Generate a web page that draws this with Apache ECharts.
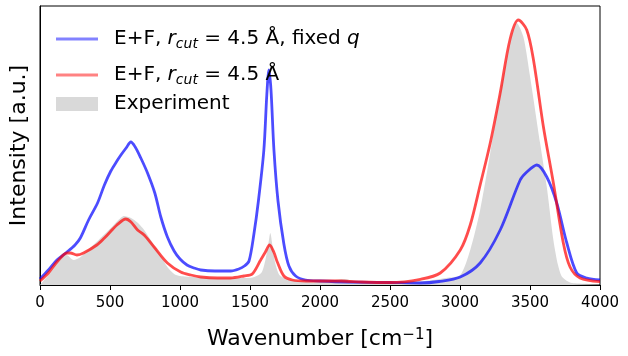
<!DOCTYPE html>
<html><head><meta charset="utf-8">
<script src="https://cdn.jsdelivr.net/npm/echarts@6/dist/echarts.min.js"></script>
<style>html,body{margin:0;padding:0;background:#fff}#c{width:628px;height:356px}</style>
</head><body><div id="c"></div>
<script>
// Wavenumber (cm^-1) and intensity (arbitrary units)
const blueX = [0,60,121,193,250,288,347,411,460,506,545,578,615,649,680,720,768,820,863,910,958,1000,1050,1100,1148,1250,1362,1420,1460,1493,1528,1560,1599,1620,1635,1650,1671,1700,1742,1778,1826,1897,2004,2200,2500,2717,2850,3002,3144,3287,3430,3477,3549,3620,3691,3763,3834,3905,4000];
const blueY = [6,15,25,33,40,47,65,82,100,114,123,130,137,143,138,127,112,92,68,48,34,26,20,17,15,14,14,16,19,24,51,84,135,190,215,195,135,84,41,19,9,5,4,3,2.5,2,3.5,8,22,55,105,113,120,108,82,42,12,7,5];

const redX = [0,60,121,193,217,264,311,406,460,501,549,613,650,697,744,815,910,1005,1077,1148,1267,1360,1457,1516,1576,1610,1640,1670,1695,1742,1802,1900,2000,2150,2300,2500,2717,2859,3002,3073,3144,3216,3287,3358,3417,3477,3525,3596,3667,3738,3786,3857,4000];
const redY = [4,12,23,32,32,30,32,40,47,53,60,66,63,55,50,38,22,13,10,8,7,7,9,11,25,33,40,33,23,9,5,4,4,4,3,2.5,5.7,12,35,60,100,142,192,246,265,255,225,158,102,42,18,7,3.3];

const expX = [0,60,121,190,240,290,350,411,506,560,600,650,700,744,791,850,910,958,1000,1100,1300,1500,1580,1610,1630,1645,1660,1680,1710,1760,1850,2000,2100,2170,2250,2400,2600,2750,2900,3002,3073,3144,3216,3287,3358,3406,3453,3501,3572,3620,3667,3700,3730,3800,4000];
const expY = [0,10,22,30,25,28,36,44,57,65,69,67,62,55,45,32,18,11,9,8,7,7,12,25,40,52,40,22,10,6,4,3,5,6,4,3,3,4,7,10,35,75,132,192,242,262,248,208,142,98,45,20,8,2,1];

const xTicks = [0,500,1000,1500,2000,2500,3000,3500,4000];
const nameBlue = 'E+F, rcut = 4.5 Å, fixed q';
const nameRed = 'E+F, rcut = 4.5 Å';
const nameExp = 'Experiment';
const xTitle = 'Wavenumber [cm{sup|−1}]';
const yTitle = 'Intensity [a.u.]';

function pairs(xs, ys){ return xs.map((x,i)=>[x, ys[i]]); }
const FONT = 'DejaVu Sans';
const rich = {
  n:{fontFamily:FONT,fontSize:20,lineHeight:24,color:'#000',verticalAlign:'middle'},
  i:{fontFamily:FONT,fontSize:20,lineHeight:24,color:'#000',fontStyle:'italic',verticalAlign:'middle'},
  sub:{fontFamily:FONT,fontSize:14,lineHeight:14,color:'#000',fontStyle:'italic',verticalAlign:'bottom'}
};
const fmt = {};
fmt[nameBlue] = '{n|E+F, }{i|r}{sub|cut}{n| = 4.5 Å, fixed }{i|q}';
fmt[nameRed] = '{n|E+F, }{i|r}{sub|cut}{n| = 4.5 Å}';
fmt[nameExp] = '{n|Experiment}';
function legendAt(name, top, h, color){
  return {
    orient:'vertical', left:56, top:top, padding:0, itemWidth:42, itemHeight:h,
    data:[{name:name, icon:'rect', itemStyle:{color:color}}], selectedMode:false,
    formatter: n => fmt[n],
    textStyle:{fontFamily:FONT,fontSize:20,color:'#000',padding:[0,0,0,11],rich:rich}
  };
}

const chart = echarts.init(document.getElementById('c'), null, {renderer:'canvas'});
chart.setOption({
  animation:false,
  backgroundColor:'#fff',
  grid:{left:39,right:28,top:6,bottom:71,show:true,borderColor:'#000',borderWidth:1,backgroundColor:'transparent'},
  legend:[legendAt(nameBlue,29,3,'rgba(0,0,255,0.7)'), legendAt(nameRed,65,3,'rgba(255,0,0,0.7)'), legendAt(nameExp,94,14,'#d9d9d9')],
  xAxis:{
    type:'value', min:0, max:4000, interval:500,
    axisLine:{show:true,onZero:false,lineStyle:{color:'#000',width:1}},
    axisTick:{show:true,length:5,inside:false,lineStyle:{color:'#000',width:1}},
    axisLabel:{show:true,margin:11,color:'#000',fontFamily:FONT,fontSize:15,
      formatter: v => String(v)},
    splitLine:{show:false},
    name:xTitle, nameLocation:'middle', nameGap:43,
    nameTextStyle:{fontFamily:FONT,fontSize:22,color:'#000',
      rich:{sup:{fontFamily:FONT,fontSize:15,color:'#000',verticalAlign:'top',lineHeight:15}}}
  },
  yAxis:{
    type:'value', min:0, max:279,
    axisLine:{show:true,lineStyle:{color:'#000',width:1}},
    axisTick:{show:false}, axisLabel:{show:false}, splitLine:{show:false},
    name:yTitle, nameLocation:'middle', nameGap:10, nameRotate:90,
    nameTextStyle:{fontFamily:FONT,fontSize:22,color:'#000'}
  },
  series:[
    {name:nameExp,type:'line',data:pairs(expX,expY),smooth:0.25,showSymbol:false,symbol:'none',
      itemStyle:{color:'#d9d9d9'},lineStyle:{width:0,color:'#d9d9d9'},areaStyle:{color:'#d9d9d9',opacity:1}},
    {name:nameBlue,type:'line',data:pairs(blueX,blueY),smooth:0.3,showSymbol:false,symbol:'none',
      itemStyle:{color:'#0000ff',opacity:0.7},lineStyle:{width:2.8,color:'#0000ff',opacity:0.7}},
    {name:nameRed,type:'line',data:pairs(redX,redY),smooth:0.3,showSymbol:false,symbol:'none',
      itemStyle:{color:'#ff0000',opacity:0.7},lineStyle:{width:2.8,color:'#ff0000',opacity:0.7}}
  ]
});
</script></body></html>
